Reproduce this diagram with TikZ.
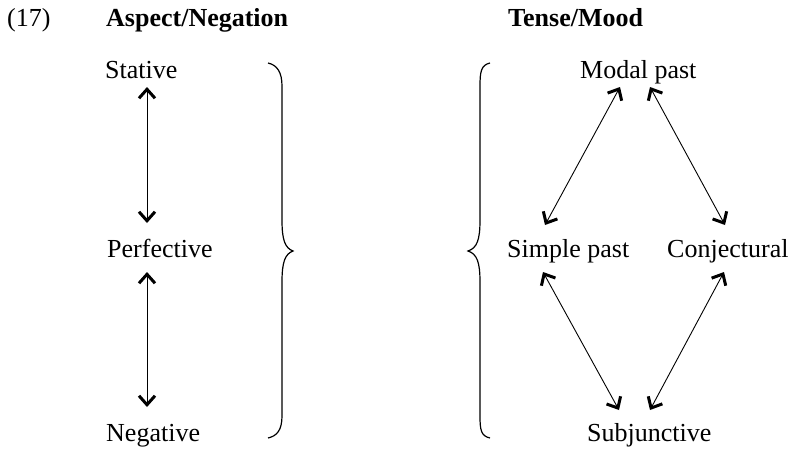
\documentclass[tikz,border=0pt]{standalone}
\usepackage{fontspec}
\setmainfont{Liberation Serif}
\usetikzlibrary{arrows.meta,calc}
\begin{document}
\begin{tikzpicture}[x=1pt,y=-1pt,
  lbl/.style={inner sep=0pt, anchor=base west, font=\fontsize{26}{30}\selectfont},
  hdr/.style={lbl, font=\fontsize{26}{30}\selectfont\bfseries},
  dbl/.style={line width=0.9pt, arrows={Straight Barb[length=9pt,width=16pt,line width=3pt 0]-Straight Barb[length=9pt,width=16pt,line width=3pt 0]}},
  brc/.style={line width=1.2pt}]
\useasboundingbox (0,0) rectangle (793,448);
% headers
\node[lbl] (num) at (7,26) {(17)};
\node[hdr] (asp) at (106,26) {Aspect/Negation};
\node[hdr] (tns) at (508,26) {Tense/Mood};
% left column
\node[lbl] (stat) at (105,78) {Stative};
\node[lbl] (perf) at (107,257) {Perfective};
\node[lbl] (neg) at (106,441) {Negative};
% right column
\node[lbl] (modal) at (580,78) {Modal past};
\node[lbl] (simple) at (507,257) {Simple past};
\node[lbl] (conj) at (667,257) {Conjectural};
\node[lbl] (subj) at (587,441) {Subjunctive};
% left arrows
\draw[dbl] ($(stat.base west)+(42,9)$) -- ($(perf.base west)+(40,-34)$);
\draw[dbl] ($(perf.base west)+(40,15)$) -- ($(neg.base west)+(41,-34)$);
% right arrows
\draw[dbl] ($(modal.base west)+(40,9)$) -- ($(simple.base west)+(38,-32)$);
\draw[dbl] ($(modal.base west)+(70,9)$) -- ($(conj.base west)+(58,-32)$);
\draw[dbl] ($(simple.base west)+(36,15)$) -- ($(subj.base west)+(32,-31)$);
\draw[dbl] ($(conj.base west)+(57,15)$) -- ($(subj.base west)+(63,-31)$);
% braces
\draw[brc] (268,63) .. controls (277,65) and (282,72) .. (282,86) -- (282,220)
  .. controls (282,240) and (285,248) .. (293,251)
  .. controls (285,254) and (282,262) .. (282,282) -- (282,416)
  .. controls (282,430) and (277,436) .. (268,438);
\draw[brc] (490,63) .. controls (481,65) and (480,72) .. (480,86) -- (480,220)
  .. controls (480,240) and (477,248) .. (468,251)
  .. controls (477,254) and (480,262) .. (480,282) -- (480,416)
  .. controls (480,430) and (481,436) .. (490,438);
\end{tikzpicture}
\end{document}
